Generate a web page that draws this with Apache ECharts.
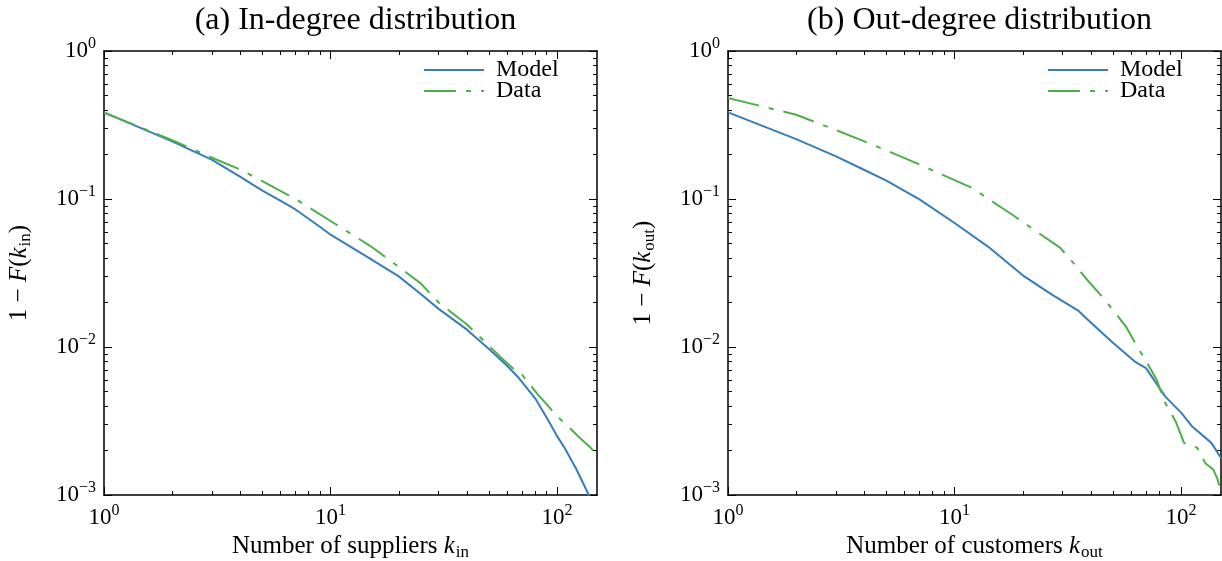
<!DOCTYPE html>
<html>
<head>
<meta charset="utf-8">
<script src="https://cdn.jsdelivr.net/npm/echarts@6/dist/echarts.min.js"></script>
<style>
  html, body { margin: 0; padding: 0; background: #fff; }
  #chart { width: 1222px; height: 561px; }
</style>
</head>
<body>
<div id="chart"></div>
<script>
// (a) in-degree
const kInModel = [1, 2, 3, 4, 5, 6, 7, 8, 9, 10, 15, 20, 25, 30, 40, 50, 60, 67, 80, 90, 100, 108, 122, 138, 145];
const inModel = [0.385, 0.245, 0.184, 0.141, 0.114, 0.0974, 0.085, 0.0736, 0.0647, 0.0574, 0.0394, 0.030, 0.0228, 0.0181, 0.0131, 0.0097, 0.0075, 0.0063, 0.0045, 0.00333, 0.0025, 0.00208, 0.00148, 0.001, 0.0008];
const kInData = [1, 2, 3, 4, 5, 7, 10, 15, 20, 25, 30, 40, 50, 57, 65, 70, 75, 82, 90, 100, 112, 126, 140, 150];
const inData = [0.383, 0.250, 0.190, 0.158, 0.132, 0.100, 0.071, 0.0481, 0.0348, 0.0269, 0.020, 0.0142, 0.0102, 0.0084, 0.0070, 0.0065, 0.0057, 0.0048, 0.0041, 0.0034, 0.0029, 0.00243, 0.0021, 0.00187];

// (b) out-degree
const kOutModel = [1, 2, 3, 4, 5, 7, 10, 14, 20, 27, 35, 38, 50, 63, 70, 85, 100, 112, 136, 150];
const outModel = [0.385, 0.254, 0.194, 0.157, 0.133, 0.0995, 0.0688, 0.0479, 0.0305, 0.0225, 0.0177, 0.0157, 0.0107, 0.0079, 0.0072, 0.00464, 0.0036, 0.0029, 0.00225, 0.00178];
const kOutData = [1, 2, 3, 4, 5, 7, 10, 12, 15, 18, 23.5, 29.3, 33, 39, 46, 57, 63, 69.5, 78, 85, 95, 103, 118, 128, 139, 145, 150];
const outData = [0.481, 0.371, 0.292, 0.245, 0.213, 0.171, 0.134, 0.1186, 0.094, 0.0783, 0.0589, 0.0467, 0.0379, 0.0278, 0.0209, 0.0138, 0.0105, 0.0082, 0.006, 0.0042, 0.0031, 0.00225, 0.00208, 0.00164, 0.00148, 0.00127, 0.00103];

// ticks
const majorX = [1, 10, 100];
const minorX = [2, 3, 4, 5, 6, 7, 8, 9, 20, 30, 40, 50, 60, 70, 80, 90];
const majorY = [0.001, 0.01, 0.1, 1];
const minorY = [0.002, 0.003, 0.004, 0.005, 0.006, 0.007, 0.008, 0.009,
  0.02, 0.03, 0.04, 0.05, 0.06, 0.07, 0.08, 0.09,
  0.2, 0.3, 0.4, 0.5, 0.6, 0.7, 0.8, 0.9];

const titles = ['(a) In-degree distribution', '(b) Out-degree distribution'];
const xNames = ['Number of suppliers {i|k}{sub|in}', 'Number of customers {i|k}{sub|out}'];
const yNames = ['{n|1 − }{i|F}{n|(}{i|k}{sub|in}{n|)}', '{n|1 − }{i|F}{n|(}{i|k}{sub|out}{n|)}'];

const FONT = '"Liberation Serif", "Times New Roman", serif';
const BLUE = '#377eb8';
const GREEN = '#4daf4a';
const grids = [
  { left: 104, top: 51, width: 493, height: 444 },
  { left: 728, top: 51, width: 493, height: 444 },
];

function powLabel(v) {
  const e = Math.round(Math.log10(v));
  return '{b|10}{s|' + String(e).replace('-', '−') + '}';
}
const powRich = {
  b: { fontFamily: FONT, fontSize: 23, color: '#000' },
  s: { fontFamily: FONT, fontSize: 16, color: '#000', padding: [0, 0, 14, 0] },
};
const nameRich = {
  n: { fontFamily: FONT, fontSize: 25, color: '#000' },
  i: { fontFamily: FONT, fontSize: 25, fontStyle: 'italic', color: '#000' },
  sub: { fontFamily: FONT, fontSize: 17, color: '#000', padding: [12, 0, 0, 1] },
};

const xAxis = [];
const yAxis = [];
grids.forEach((g, gi) => {
  const base = { type: 'log', logBase: 10, gridIndex: gi, splitLine: { show: false } };
  const line = { show: true, lineStyle: { color: '#000', width: 1.5 } };
  // bottom, major + labels + name
  xAxis.push(Object.assign({}, base, {
    min: 1, max: 150, position: 'bottom',
    axisLine: line,
    axisTick: { inside: true, length: 8, customValues: majorX, lineStyle: { color: '#000', width: 1 } },
    axisLabel: { customValues: majorX, margin: 8, formatter: powLabel, rich: powRich },
    name: xNames[gi], nameLocation: 'middle', nameGap: 36,
    nameTextStyle: { fontFamily: FONT, fontSize: 25, color: '#000', rich: nameRich },
  }));
  xAxis.push(Object.assign({}, base, {
    min: 1, max: 150, position: 'bottom',
    axisLine: { show: false },
    axisTick: { inside: true, length: 4, customValues: minorX, lineStyle: { color: '#000', width: 1 } },
    axisLabel: { show: false },
  }));
  xAxis.push(Object.assign({}, base, {
    min: 1, max: 150, position: 'top',
    axisLine: line,
    axisTick: { inside: true, length: 8, customValues: majorX, lineStyle: { color: '#000', width: 1 } },
    axisLabel: { show: false },
  }));
  xAxis.push(Object.assign({}, base, {
    min: 1, max: 150, position: 'top',
    axisLine: { show: false },
    axisTick: { inside: true, length: 4, customValues: minorX, lineStyle: { color: '#000', width: 1 } },
    axisLabel: { show: false },
  }));
  yAxis.push(Object.assign({}, base, {
    min: 0.001, max: 1, position: 'left',
    axisLine: line,
    axisTick: { inside: true, length: 8, customValues: majorY, lineStyle: { color: '#000', width: 1 } },
    axisLabel: { customValues: majorY, margin: 8, formatter: powLabel, rich: powRich },
    name: yNames[gi], nameLocation: 'middle', nameGap: 70, nameRotate: 90,
    nameTextStyle: { fontFamily: FONT, fontSize: 25, color: '#000', rich: nameRich },
  }));
  yAxis.push(Object.assign({}, base, {
    min: 0.001, max: 1, position: 'left',
    axisLine: { show: false },
    axisTick: { inside: true, length: 4, customValues: minorY, lineStyle: { color: '#000', width: 1 } },
    axisLabel: { show: false },
  }));
  yAxis.push(Object.assign({}, base, {
    min: 0.001, max: 1, position: 'right',
    axisLine: line,
    axisTick: { inside: true, length: 8, customValues: majorY, lineStyle: { color: '#000', width: 1 } },
    axisLabel: { show: false },
  }));
  yAxis.push(Object.assign({}, base, {
    min: 0.001, max: 1, position: 'right',
    axisLine: { show: false },
    axisTick: { inside: true, length: 4, customValues: minorY, lineStyle: { color: '#000', width: 1 } },
    axisLabel: { show: false },
  }));
});

function pairs(ks, vs) {
  return ks.map((k, i) => [k, vs[i]]);
}

const dashDot = [32, 10, 5, 10];
const series = [
  { name: 'Model', k: kInModel, v: inModel, g: 0, color: BLUE, type: 'solid' },
  { name: 'Data', k: kInData, v: inData, g: 0, color: GREEN, type: dashDot },
  { name: 'Model', k: kOutModel, v: outModel, g: 1, color: BLUE, type: 'solid' },
  { name: 'Data', k: kOutData, v: outData, g: 1, color: GREEN, type: dashDot },
].map(s => ({
  name: s.name,
  type: 'line',
  xAxisIndex: s.g * 4,
  yAxisIndex: s.g * 4,
  data: pairs(s.k, s.v),
  symbol: 'none',
  clip: true,
  color: s.color,
  lineStyle: { color: s.color, width: 2, type: s.type },
  animation: false,
}));

// legend: line only, symbol hidden
const legendBase = {
  data: ['Model', 'Data'],
  orient: 'vertical',
  top: 58,
  padding: 0,
  itemWidth: 60,
  itemHeight: 2,
  itemGap: -3,
  itemStyle: { opacity: 0 },
  textStyle: { fontFamily: FONT, fontSize: 24, color: '#000', padding: [0, 0, 0, 7] },
};

const option = {
  animation: false,
  backgroundColor: '#fff',
  title: titles.map((t, i) => ({
    text: t,
    left: grids[i].left + grids[i].width / 2,
    textAlign: 'center',
    top: 0,
    textStyle: { fontFamily: FONT, fontSize: 32, fontWeight: 'normal', color: '#000' },
  })),
  legend: [
    Object.assign({}, legendBase, { left: 423 }),
    Object.assign({}, legendBase, { left: 1047 }),
  ],
  grid: grids.map(g => Object.assign({ containLabel: false, outerBoundsMode: 'none' }, g)),
  xAxis: xAxis,
  yAxis: yAxis,
  series: series,
};

const chart = echarts.init(document.getElementById('chart'), null, { renderer: 'canvas' });
chart.setOption(option);
</script>
</body>
</html>
